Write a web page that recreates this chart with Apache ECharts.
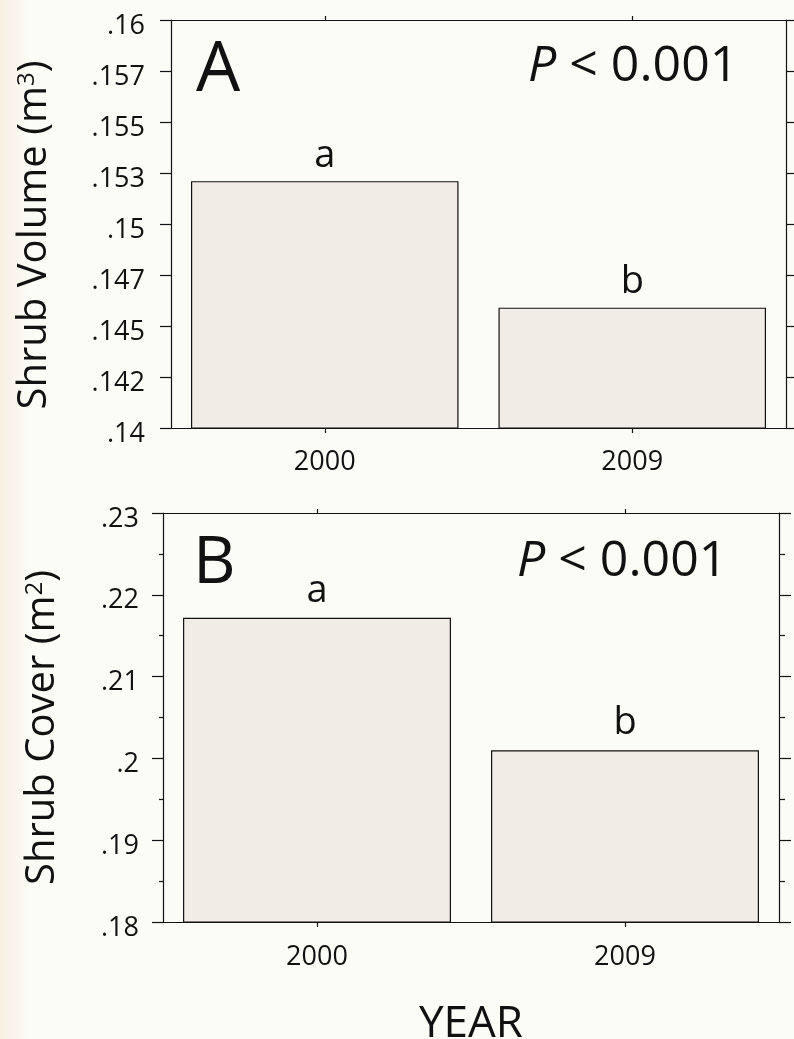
<!DOCTYPE html>
<html>
<head>
<meta charset="utf-8">
<script src="https://cdn.jsdelivr.net/npm/echarts@6/dist/echarts.min.js"></script>
<style>
html,body{margin:0;padding:0;background:#fcfcf6;}
#c{width:794px;height:1039px;}
</style>
</head>
<body>
<div id="c"></div>
<script>
// ---- data ----
const years = ['2000', '2009'];
const shrubVolume = [0.1521, 0.1459];
const shrubCover = [0.2172, 0.2010];
const sigLetters = ['a', 'b'];
const volumeTickLabels = ['.14', '.142', '.145', '.147', '.15', '.153', '.155', '.157', '.16'];
const coverTickLabels = ['.18', '.19', '.2', '.21', '.22', '.23'];
const panelLetters = ['A', 'B'];

const FONT = '"Open Sans", "Noto Sans", sans-serif';
const INK = '#111';
const BAR_FILL = '#f2ece7';

const chart = echarts.init(document.getElementById('c'), null, {renderer: 'canvas'});

function tickFmt(labels, min, interval) {
  return function (v) {
    const i = Math.round((v - min) / interval);
    return labels[i] !== undefined ? labels[i] : '';
  };
}

const lineStyle = {color: INK, width: 1.2};
const nameRich = {sup: {fontFamily: FONT, fontSize: 24, color: INK, verticalAlign: 'top', padding: [0, 0, 16, 0]}};

const option = {
  backgroundColor: '#fcfcf6',
  animation: false,
  grid: [
    {left: 171, top: 20, width: 615, height: 408, containLabel: false, outerBoundsMode: 'none'},
    {left: 163, top: 513, width: 616, height: 409, containLabel: false, outerBoundsMode: 'none'}
  ],
  xAxis: [
    {gridIndex: 0, type: 'category', data: years, position: 'bottom',
     axisLine: {show: true, lineStyle: lineStyle},
     axisTick: {show: true, alignWithLabel: true, length: 5, lineStyle: lineStyle},
     axisLabel: {fontFamily: FONT, fontSize: 27, color: INK, margin: 21}},
    {gridIndex: 0, type: 'category', data: years, position: 'top',
     axisLine: {show: true, lineStyle: lineStyle},
     axisTick: {show: true, alignWithLabel: true, length: 4, lineStyle: lineStyle},
     axisLabel: {show: false}},
    {gridIndex: 1, type: 'category', data: years, position: 'bottom',
     axisLine: {show: true, lineStyle: lineStyle},
     axisTick: {show: true, alignWithLabel: true, length: 5, lineStyle: lineStyle},
     axisLabel: {fontFamily: FONT, fontSize: 27, color: INK, margin: 22},
     name: 'YEAR', nameLocation: 'middle', nameGap: 80,
     nameTextStyle: {fontFamily: FONT, fontSize: 44, color: INK}},
    {gridIndex: 1, type: 'category', data: years, position: 'top',
     axisLine: {show: true, lineStyle: lineStyle},
     axisTick: {show: true, alignWithLabel: true, length: 4, lineStyle: lineStyle},
     axisLabel: {show: false}}
  ],
  yAxis: [
    {gridIndex: 0, type: 'value', position: 'left', min: 0.14, max: 0.16, interval: 0.0025,
     axisLine: {show: true, lineStyle: lineStyle},
     axisTick: {show: true, length: 11, lineStyle: lineStyle},
     splitLine: {show: false},
     axisLabel: {fontFamily: FONT, fontSize: 27, color: INK, margin: 26, verticalAlign: 'top', lineHeight: 12,
                 formatter: tickFmt(volumeTickLabels, 0.14, 0.0025)},
     name: 'Shrub Volume (m{sup|3})', nameLocation: 'middle', nameGap: 116, nameRotate: 90,
     nameTextStyle: {fontFamily: FONT, fontSize: 40, color: INK, padding: [0, 22, 0, 0], rich: nameRich}},
    {gridIndex: 0, type: 'value', position: 'right', min: 0.14, max: 0.16, interval: 0.0025,
     axisLine: {show: true, lineStyle: lineStyle},
     axisTick: {show: true, length: 10, lineStyle: lineStyle},
     splitLine: {show: false},
     axisLabel: {show: false}},
    {gridIndex: 1, type: 'value', position: 'left', min: 0.18, max: 0.23, interval: 0.01,
     axisLine: {show: true, lineStyle: lineStyle},
     axisTick: {show: true, length: 11, lineStyle: lineStyle},
     minorTick: {show: true, splitNumber: 2, length: 4, lineStyle: lineStyle},
     splitLine: {show: false},
     axisLabel: {fontFamily: FONT, fontSize: 27, color: INK, margin: 24, verticalAlign: 'top', lineHeight: 12,
                 formatter: tickFmt(coverTickLabels, 0.18, 0.01)},
     name: 'Shrub Cover (m{sup|2})', nameLocation: 'middle', nameGap: 100, nameRotate: 90,
     nameTextStyle: {fontFamily: FONT, fontSize: 40, color: INK, padding: [0, 20, 0, 0], rich: nameRich}},
    {gridIndex: 1, type: 'value', position: 'right', min: 0.18, max: 0.23, interval: 0.01,
     axisLine: {show: true, lineStyle: lineStyle},
     axisTick: {show: true, length: 12, lineStyle: lineStyle},
     minorTick: {show: true, splitNumber: 2, length: 6, lineStyle: lineStyle},
     splitLine: {show: false},
     axisLabel: {show: false}}
  ],
  series: [
    {type: 'bar', xAxisIndex: 0, yAxisIndex: 0, data: shrubVolume, barWidth: '87%',
     itemStyle: {color: BAR_FILL, borderColor: INK, borderWidth: 1.2},
     label: {show: true, position: 'top', distance: 6, fontFamily: FONT, fontSize: 38, color: INK,
             formatter: p => sigLetters[p.dataIndex]}},
    {type: 'bar', xAxisIndex: 2, yAxisIndex: 2, data: shrubCover, barWidth: '87%',
     itemStyle: {color: BAR_FILL, borderColor: INK, borderWidth: 1.2},
     label: {show: true, position: 'top', distance: 8, fontFamily: FONT, fontSize: 38, color: INK,
             formatter: p => sigLetters[p.dataIndex]}}
  ],
  graphic: [
    {type: 'rect', z: -10, silent: true, shape: {x: 0, y: 0, width: 30, height: 1039},
     style: {fill: new echarts.graphic.LinearGradient(0, 0, 1, 0, [
       {offset: 0, color: '#f8eee3'}, {offset: 1, color: '#fcfcf6'}])}},
    {type: 'text', left: 196, top: 36, z: 10,
     style: {text: panelLetters[0], font: '70px ' + FONT, fill: INK}},
    {type: 'text', left: 193, top: 531, z: 10,
     style: {text: panelLetters[1], font: '66px ' + FONT, fill: INK}},
    {type: 'text', left: 528, top: 42, z: 10,
     style: {text: '{i|P} < 0.001', font: '50px ' + FONT, fill: INK,
             rich: {i: {fontStyle: 'italic', fontFamily: FONT, fontSize: 50, fill: INK}}}},
    {type: 'text', left: 517, top: 537, z: 10,
     style: {text: '{i|P} < 0.001', font: '50px ' + FONT, fill: INK,
             rich: {i: {fontStyle: 'italic', fontFamily: FONT, fontSize: 50, fill: INK}}}}
  ]
};
chart.setOption(option);
</script>
</body>
</html>
